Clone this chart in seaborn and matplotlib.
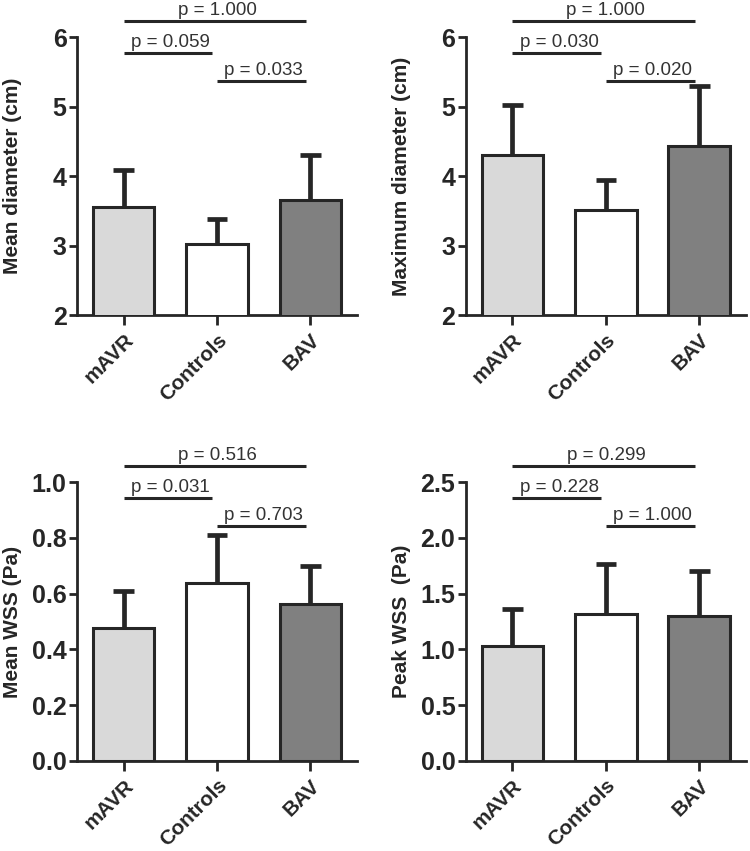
import numpy as np
import matplotlib
matplotlib.use("Agg")
import matplotlib.pyplot as plt
import seaborn as sns

# ─── DATA ────────────────────────────────────────────────────────────────────
GROUPS = ["mAVR", "Controls", "BAV"]
BAR_COLORS = ["#d9d9d9", "#ffffff", "#808080"]

MEAN_DIAM = [3.55, 3.02, 3.65]
MEAN_DIAM_SD = [0.54, 0.36, 0.65]
MAX_DIAM = [4.30, 3.51, 4.43]
MAX_DIAM_SD = [0.72, 0.43, 0.87]
MEAN_WSS = [0.476, 0.64, 0.563]
MEAN_WSS_SD = [0.134, 0.17, 0.137]
PEAK_WSS = [1.03, 1.32, 1.30]
PEAK_WSS_SD = [0.33, 0.45, 0.40]

# p-values for (mAVR vs BAV), (mAVR vs Controls), (Controls vs BAV)
PAIRS = [(0, 2), (0, 1), (1, 2)]
P_MEAN_DIAM = ["1.000", "0.059", "0.033"]
P_MAX_DIAM = ["1.000", "0.030", "0.020"]
P_MEAN_WSS = ["0.516", "0.031", "0.703"]
P_PEAK_WSS = ["0.299", "0.228", "1.000"]

Y_TICKS_DIAM = [2, 3, 4, 5, 6]
Y_TICKS_MEAN_WSS = [0.0, 0.2, 0.4, 0.6, 0.8, 1.0]
Y_TICKS_PEAK_WSS = [0.0, 0.5, 1.0, 1.5, 2.0, 2.5]
# ─────────────────────────────────────────────────────────────────────────────

DARK = "#262626"
BRACKET_Y = [1.057, 0.943, 0.843]   # axes fraction

sns.set_style("ticks")
plt.rcParams["font.family"] = ["Liberation Sans", "DejaVu Sans"]


def panel(ax, means, sds, pvals, ylabel, yticks, fmt):
    sns.barplot(x=GROUPS, y=means, hue=GROUPS, palette=BAR_COLORS, legend=False,
                width=0.66, edgecolor=DARK, linewidth=2.2, saturation=1, ax=ax, zorder=3)
    x = np.arange(len(GROUPS))
    tops = np.array(means) + np.array(sds)
    ax.vlines(x, means, tops, color=DARK, linewidth=3.4, zorder=2)
    ax.hlines(tops, x - 0.11, x + 0.11, color=DARK, linewidth=3.4, zorder=2)

    ax.set_ylim(yticks[0], yticks[-1])
    ax.set_xlim(-0.5, 2.5)
    ax.set_yticks(yticks)
    ax.set_yticklabels([fmt.format(t) for t in yticks], fontsize=18, fontweight="bold")
    ax.set_xticks(x)
    ax.set_xticklabels(GROUPS, fontsize=15, fontweight="bold", rotation=45,
                       ha="right", va="top", rotation_mode="anchor")
    ax.set_ylabel(ylabel, fontsize=15, fontweight="bold")
    ax.yaxis.set_label_coords(-0.196, 0.5)
    ax.set_xlabel("")
    sns.despine(ax=ax)
    for s in ["left", "bottom"]:
        ax.spines[s].set_linewidth(2)
        ax.spines[s].set_color(DARK)
    ax.tick_params(axis="y", length=6, width=2, color=DARK, pad=1.5)
    ax.tick_params(axis="x", length=7, width=2, color=DARK, pad=4)

    trans = ax.get_xaxis_transform()
    for (i, j), p, h in zip(PAIRS, pvals, BRACKET_Y):
        ax.plot([i, j - 0.05], [h, h], color=DARK, linewidth=2.2,
                transform=trans, clip_on=False, solid_capstyle="butt")
        ax.annotate(f"p = {p}", xy=((i + j) / 2, h), xycoords=trans,
                    xytext=(0, 1.5), textcoords="offset points",
                    ha="center", va="bottom", fontsize=13.5, color="#333333")


fig = plt.figure(figsize=(7.5, 8.51), dpi=100)
ax1 = fig.add_axes([0.1027, 0.6298, 0.3733, 0.3267])
ax2 = fig.add_axes([0.621, 0.6298, 0.3737, 0.3267])
ax3 = fig.add_axes([0.1027, 0.1061, 0.3733, 0.3272])
ax4 = fig.add_axes([0.621, 0.1061, 0.3737, 0.3272])

panel(ax1, MEAN_DIAM, MEAN_DIAM_SD, P_MEAN_DIAM, "Mean diameter (cm)", Y_TICKS_DIAM, "{:.0f}")
panel(ax2, MAX_DIAM, MAX_DIAM_SD, P_MAX_DIAM, "Maximum diameter (cm)", Y_TICKS_DIAM, "{:.0f}")
panel(ax3, MEAN_WSS, MEAN_WSS_SD, P_MEAN_WSS, "Mean WSS (Pa)", Y_TICKS_MEAN_WSS, "{:.1f}")
panel(ax4, PEAK_WSS, PEAK_WSS_SD, P_PEAK_WSS, "Peak WSS  (Pa)", Y_TICKS_PEAK_WSS, "{:.1f}")

fig.savefig("out.png", dpi=100)
